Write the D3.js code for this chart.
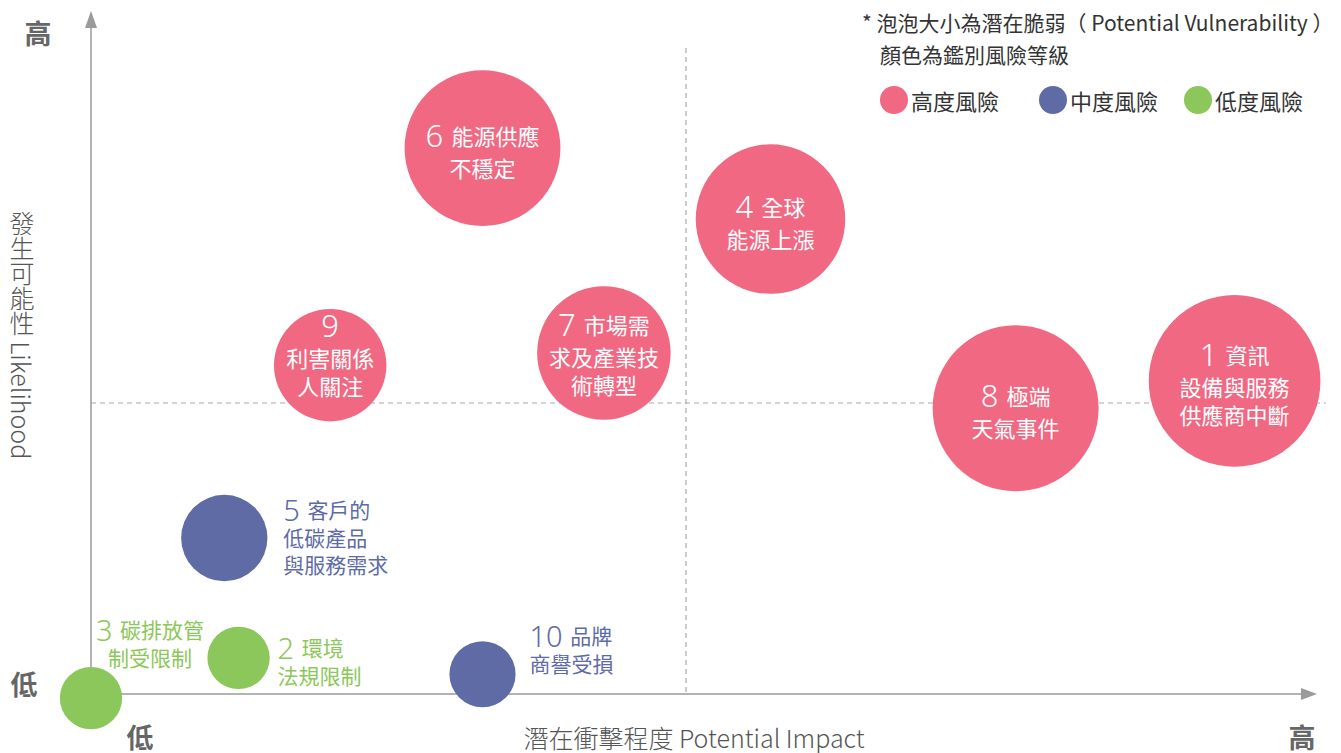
<!DOCTYPE html>
<html>
<head>
<meta charset="utf-8">
<script src="https://cdn.jsdelivr.net/npm/d3@7"></script>
<style>
  html, body { margin: 0; padding: 0; background: #fff; }
  svg { display: block; font-family: "Noto Sans CJK TC", "Noto Sans", sans-serif; }
</style>
</head>
<body>
<svg id="chart" width="1341" height="753"></svg>
<script>
// ---- data (impact / likelihood on 0-10, vulnerability drives bubble size)
const ids = [1, 2, 3, 4, 5, 6, 7, 8, 9, 10]
const labels = [
  ["資訊", "設備與服務", "供應商中斷"],
  ["環境", "法規限制"],
  ["碳排放管", "制受限制"],
  ["全球", "能源上漲"],
  ["客戶的", "低碳產品", "與服務需求"],
  ["能源供應", "不穩定"],
  ["市場需", "求及產業技", "術轉型"],
  ["極端", "天氣事件"],
  ["", "利害關係", "人關注"],
  ["品牌", "商譽受損"]
]
const impact = [9.61, 1.24, 0.0, 5.71, 1.12, 3.29, 4.31, 7.77, 2.01, 3.29]
const likelihood = [5.38, 0.62, -0.07, 8.16, 2.68, 9.38, 5.86, 4.91, 5.65, 0.34]
const vulnerability = [9.1, 1.2, 1.2, 6.9, 2.3, 7.5, 5.5, 8.5, 3.9, 1.35]
const level = ["high", "low", "low", "high", "mid", "high", "high", "high", "high", "mid"]
const levelNames = ["高度風險", "中度風險", "低度風險"]
const levelKeys = ["high", "mid", "low"]

const color = d3.scaleOrdinal().domain(levelKeys).range(["#f06882", "#5e6ba5", "#8bc75a"])

const svg = d3.select("#chart")
const origin = { x: 91, y: 694 }
const x = d3.scaleLinear().domain([0, 10]).range([origin.x, 1281])
const y = d3.scaleLinear().domain([0, 10]).range([origin.y, 112])
const r = d3.scaleSqrt().domain([0, 10]).range([0, 90])

const axisColor = "#9a9a9a"
const textGray = "#555"

// quadrant dashed lines
svg.append("line").attr("x1", origin.x).attr("x2", 1326).attr("y1", y(5)).attr("y2", y(5))
  .attr("stroke", "#aaa").attr("stroke-width", 1.2).attr("stroke-dasharray", "5,4")
svg.append("line").attr("x1", x(5)).attr("x2", x(5)).attr("y1", 48).attr("y2", origin.y)
  .attr("stroke", "#aaa").attr("stroke-width", 1.2).attr("stroke-dasharray", "5,4")

// axes with arrows
svg.append("line").attr("x1", origin.x).attr("x2", 1306).attr("y1", origin.y).attr("y2", origin.y)
  .attr("stroke", axisColor).attr("stroke-width", 1.5)
svg.append("path").attr("d", `M1317,${origin.y} L1301,${origin.y - 6} L1301,${origin.y + 6} Z`).attr("fill", axisColor)
svg.append("line").attr("x1", origin.x).attr("x2", origin.x).attr("y1", origin.y).attr("y2", 24)
  .attr("stroke", axisColor).attr("stroke-width", 1.5)
svg.append("path").attr("d", `M${origin.x},11 L${origin.x - 6},28 L${origin.x + 6},28 Z`).attr("fill", axisColor)

// axis end labels
const ends = [["高", 38, 32], ["低", 24, 683], ["低", 140, 736], ["高", 1302, 736]]
svg.selectAll(".end").data(ends).join("text").attr("class", "end")
  .attr("x", d => d[1]).attr("y", d => d[2]).attr("text-anchor", "middle").attr("dominant-baseline", "central")
  .attr("font-size", 27).attr("font-weight", "bold").attr("fill", "#666").text(d => d[0])

svg.append("text").attr("x", 694).attr("y", 737).attr("text-anchor", "middle").attr("dominant-baseline", "central")
  .attr("font-size", 25).attr("font-weight", 300).attr("fill", textGray).text("潛在衝擊程度 Potential Impact")

svg.append("text").attr("x", 22).attr("y", 335).attr("text-anchor", "middle")
  .style("writing-mode", "vertical-rl").attr("dominant-baseline", "central")
  .attr("font-size", 25).attr("font-weight", 300).attr("fill", textGray).text("發生可能性 Likelihood")

// bubbles
const rows = ids.map((id, i) => ({ id, lines: labels[i], cx: x(impact[i]), cy: y(likelihood[i]), r: r(vulnerability[i]), level: level[i] }))

svg.selectAll(".bubble").data(rows).join("circle").attr("class", "bubble")
  .attr("cx", d => d.cx).attr("cy", d => d.cy).attr("r", d => d.r).attr("fill", d => color(d.level))

// label placement: inside bubbles for the big ones, beside for the small ones
const placement = {
  1: { dx: 0, dy: 3, anchor: "middle", inside: true },
  4: { dx: 0, dy: 3, anchor: "middle", inside: true },
  6: { dx: 0, dy: 3, anchor: "middle", inside: true },
  7: { dx: 0, dy: 1, anchor: "middle", inside: true },
  8: { dx: 0, dy: 3, anchor: "middle", inside: true },
  9: { dx: 0, dy: -10, anchor: "middle", inside: true },
  5: { dx: 59, dy: -2, anchor: "start", inside: false },
  10: { dx: 47, dy: -25, anchor: "start", inside: false },
  2: { dx: 39, dy: 3, anchor: "start", inside: false },
  3: { dx: 59, dy: -55, anchor: "middle", inside: false }
}

rows.forEach(d => {
  const p = placement[d.id]
  const first = p.inside ? 32 : 28
  const rest = p.inside ? 28 : 27
  const total = d.lines.length > 1 ? first + rest * (d.lines.length - 2) : 0
  const top = d.cy + p.dy - total / 2
  const fill = p.inside ? "#fff" : color(d.level)
  const g = svg.append("g")
  d.lines.forEach((line, j) => {
    const ly = j === 0 ? top : top + first + rest * (j - 1)
    const t = g.append("text").attr("x", d.cx + p.dx).attr("y", ly)
      .attr("text-anchor", p.anchor).attr("dominant-baseline", "central").attr("fill", fill)
    if (j === 0) {
      t.append("tspan").attr("font-size", p.inside ? 31 : 29).attr("font-family", "'Noto Sans', sans-serif").attr("font-weight", 300)
        .text(d.id + (line ? " " : ""))
      t.append("tspan").attr("font-size", p.inside ? 22 : 21).text(line)
    } else {
      t.attr("font-size", p.inside ? 22 : 21).text(line)
    }
  })
})

// legend
svg.append("text").attr("x", 862).attr("y", 22).attr("dominant-baseline", "central")
  .attr("font-size", 21).attr("fill", "#333").text("* 泡泡大小為潛在脆弱（ Potential Vulnerability ）")
svg.append("text").attr("x", 880).attr("y", 54).attr("dominant-baseline", "central")
  .attr("font-size", 21).attr("fill", "#333").text("顏色為鑑別風險等級")

const legendX = [894, 1053, 1198]
const lg = svg.selectAll(".legend").data(levelKeys).join("g").attr("class", "legend")
  .attr("transform", (d, i) => `translate(${legendX[i]},100)`)
lg.append("circle").attr("r", 14).attr("fill", d => color(d))
lg.append("text").attr("x", 17).attr("dominant-baseline", "central").attr("font-size", 22).attr("fill", "#333")
  .text((d, i) => levelNames[i])
</script>
</body>
</html>
